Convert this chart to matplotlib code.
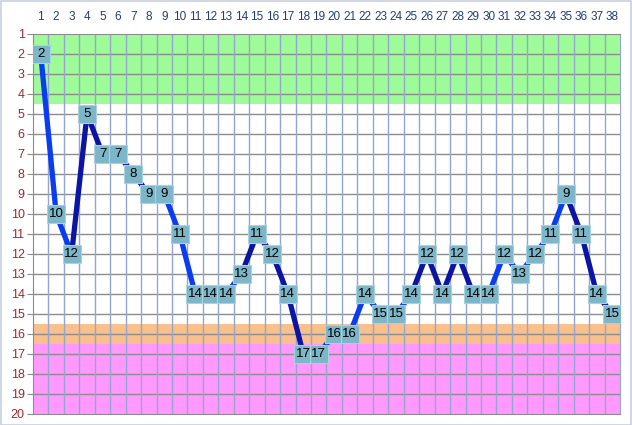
import numpy as np
import matplotlib
matplotlib.use("Agg")
import matplotlib.pyplot as plt
from matplotlib.collections import LineCollection
from matplotlib.patches import Rectangle

plt.rcParams['font.family'] = ['Liberation Sans', 'DejaVu Sans']

days = list(range(1, 39))
values = [2, 10, 12, 5, 7, 7, 8, 9, 9, 11, 14, 14, 14, 13, 11, 12, 14, 17, 17, 16,
          16, 14, 15, 15, 14, 12, 14, 12, 14, 14, 12, 13, 12, 11, 9, 11, 14, 15]
# segment shade: 1 = bright blue, 0 = dark navy
seg_shade = [1, 1, 0, 0, 0, 0, 0, 0, 1, 1, 1, 1, 1, 0, 0, 0, 0, 0, 1, 1,
             1, 1, 1, 1, 0, 0, 0, 0, 0, 1, 1, 1, 1, 1, 0, 0, 0]
bands = [(0.5, 4.5, '#9EFC98'), (15.5, 16.5, '#F9C08E'), (16.5, 20, '#FF99FF')]

fig = plt.figure(figsize=(6.32, 4.25), dpi=100)
fig.patches.append(Rectangle((0.001, 0.001), 0.997, 0.997, transform=fig.transFigure,
                             fill=False, edgecolor='#C9D0E0', linewidth=1.2))
ax = fig.add_axes([33/632, 1-414/425, 587/632, 380/425])

for y0, y1, c in bands:
    ax.axhspan(y0, y1, color=c, zorder=0, lw=0)

for y in range(2, 20):
    ax.axhline(y, color='#8C8C8C', lw=1.0, zorder=1)
for x in np.arange(1.5, 38.5, 1):
    ax.axvline(x, color='#93A6CF', lw=1.0, zorder=1)

pts = np.column_stack([days, values])
segs = np.stack([pts[:-1], pts[1:]], axis=1)
cols = ['#0A3CF2' if s else '#0C14A6' for s in seg_shade]
ax.add_collection(LineCollection(segs, colors=cols, linewidths=3.8, zorder=2,
                                 capstyle='round'))

# label boxes as slightly wide square markers, numbers on top
box = [(-1.1, -1), (1.1, -1), (1.1, 1), (-1.1, 1), (-1.1, -1)]
ax.scatter(days, values, marker=box, s=185, facecolor='#7CB6C9',
           edgecolor='#A9D3DF', linewidths=0.8, zorder=3)
for d, v in zip(days, values):
    ax.text(d, v, str(v), ha='center', va='center', fontsize=9.5, color='black',
            zorder=4)

ax.set_xlim(0.5, 38.5)
ax.set_ylim(20, 1)
ax.set_xticks(days)
ax.set_yticks(range(1, 21))
ax.xaxis.tick_top()
ax.tick_params(axis='x', length=0, labelsize=8.5, labelcolor='#1F3F7F', pad=8)
ax.tick_params(axis='y', length=4, color='#8C8C8C', labelsize=9, labelcolor='#A0282E', pad=2)
for s in ['left', 'bottom', 'top']:
    ax.spines[s].set_color('#8C8C8C')
ax.spines['right'].set_color('#93A6CF')

fig.savefig('out.png', dpi=100)
